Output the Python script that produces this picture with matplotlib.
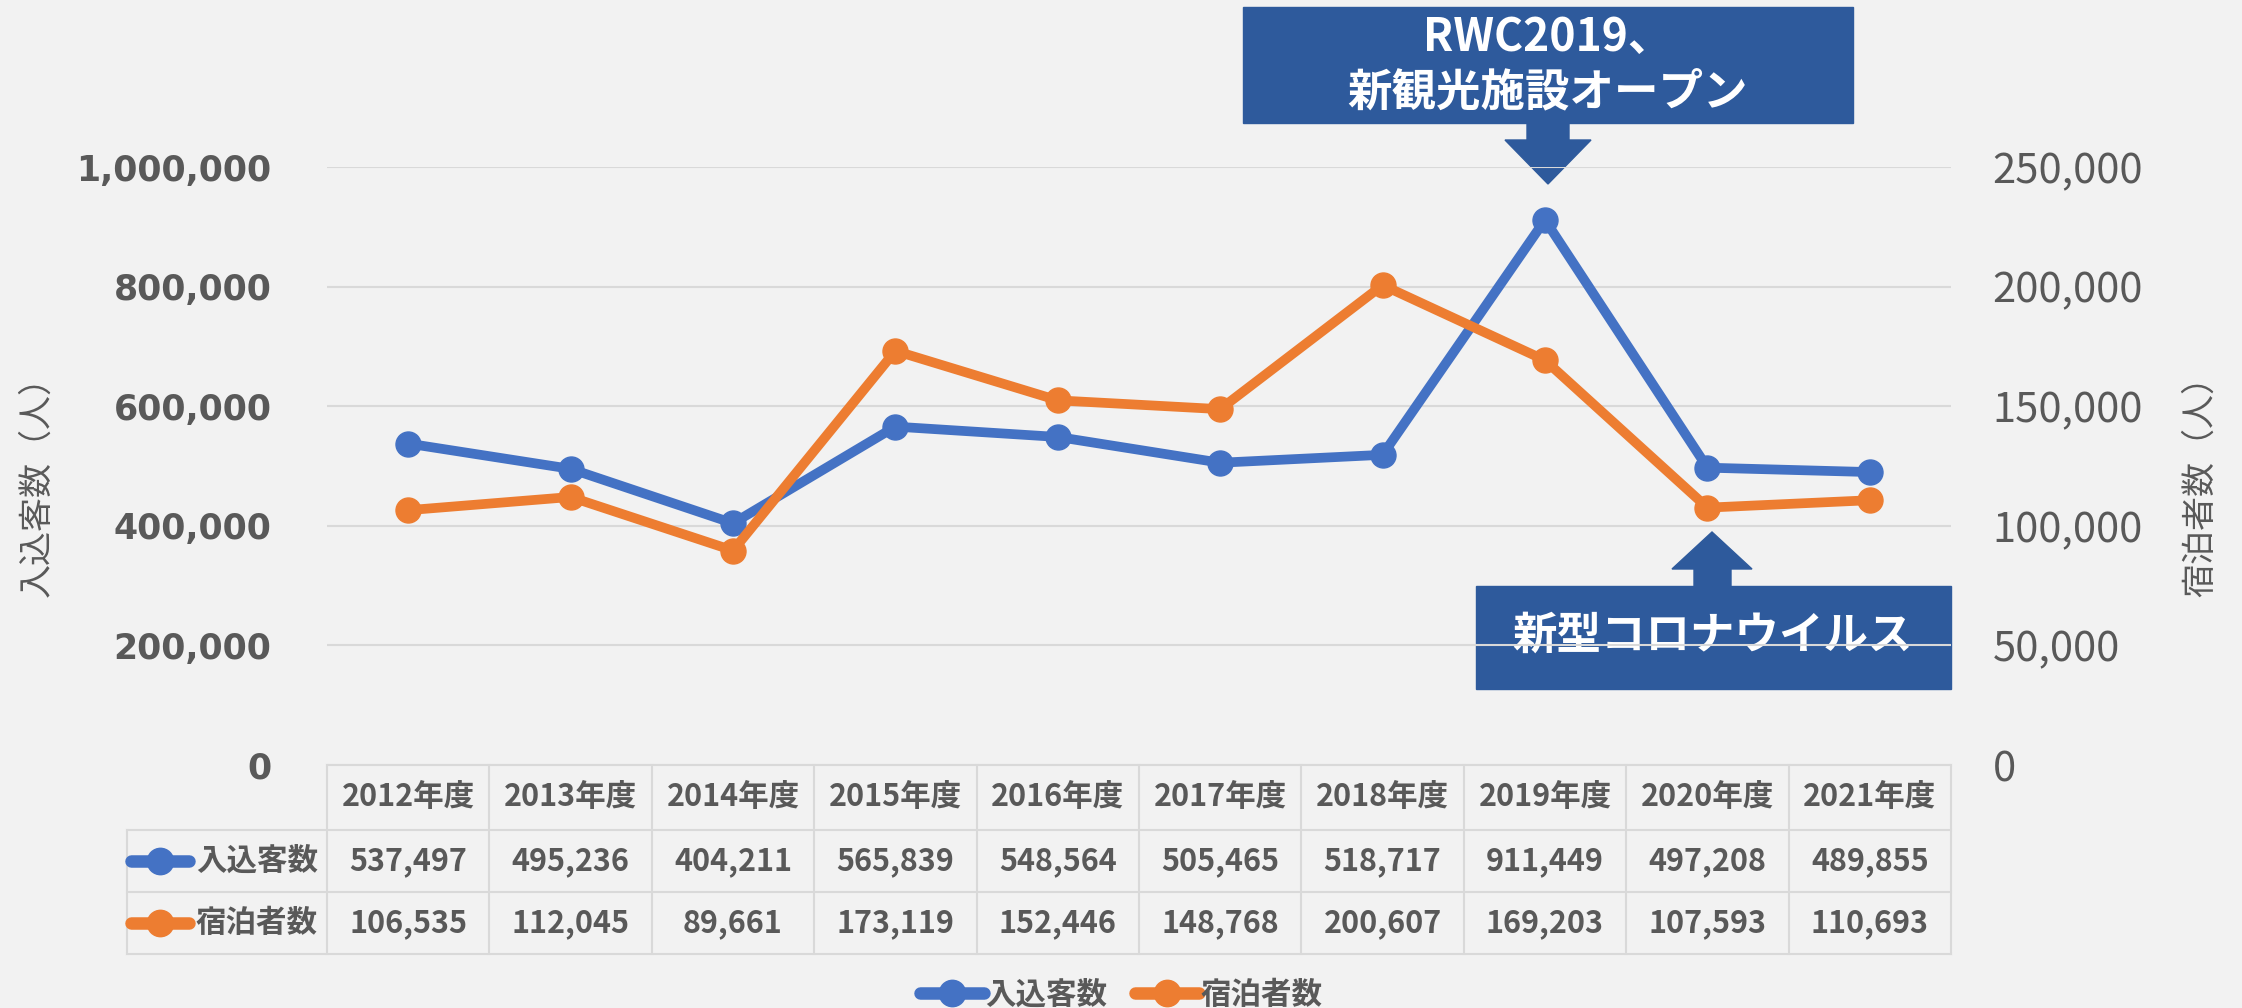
# Inbound visitors and overnight stays by fiscal year, with data table below
import matplotlib.pyplot as plt
from matplotlib.lines import Line2D
from matplotlib.patches import Rectangle, Polygon
from matplotlib.transforms import blended_transform_factory
import numpy as np

plt.rcParams['font.family'] = ['Noto Sans CJK JP', 'DejaVu Sans']

# data
years = ['2012年度', '2013年度', '2014年度', '2015年度', '2016年度',
         '2017年度', '2018年度', '2019年度', '2020年度', '2021年度']
inbound = [537497, 495236, 404211, 565839, 548564, 505465, 518717, 911449, 497208, 489855]
stays = [106535, 112045, 89661, 173119, 152446, 148768, 200607, 169203, 107593, 110693]
series_names = ['入込客数', '宿泊者数']
left_ticks = [0, 200000, 400000, 600000, 800000, 1000000]
right_ticks = [0, 50000, 100000, 150000, 200000, 250000]

W, H = 2242, 1008
BG = '#f2f2f2'
GRAY = '#595959'
GRID = '#d9d9d9'
BLUE = '#4472c4'
ORANGE = '#ed7d31'
NAVY = '#2e5a9c'


def fx(px):
    return px / W


def fy(py):
    return 1 - py / H


fig = plt.figure(figsize=(W / 100, H / 100), dpi=100)
fig.patch.set_facecolor(BG)

ax1 = fig.add_axes([fx(327), fy(765), fx(1951) - fx(327), fy(167) - fy(765)])
ax1.patch.set_visible(False)
ax2 = ax1.twinx()
ax2.patch.set_visible(False)

x = np.arange(len(years))
ax1.plot(x, inbound, color=BLUE, lw=7, marker='o', ms=18, solid_capstyle='round', zorder=3)
ax2.plot(x, stays, color=ORANGE, lw=7, marker='o', ms=18, solid_capstyle='round', zorder=3)

ax1.set_xlim(-0.5, len(years) - 0.5)
ax1.set_ylim(0, 1000000)
ax2.set_ylim(0, 250000)
ax1.set_xticks([])
ax1.set_yticks(left_ticks)
ax2.set_yticks(right_ticks)
ax1.set_yticklabels([f'{v:,}' for v in left_ticks], family='DejaVu Sans',
                    fontweight='bold', fontsize=25, color=GRAY)
ax2.set_yticklabels([f'{v:,}' for v in right_ticks], fontsize=30, color=GRAY)
ax1.tick_params(axis='y', length=0, pad=40)
ax2.tick_params(axis='y', length=0, pad=30)
for a in (ax1, ax2):
    for s in a.spines.values():
        s.set_visible(False)
ax1.grid(axis='y', color=GRID, lw=1.5)
ax1.set_axisbelow(True)

fig.text(fx(37), fy(478), '入込客数（人）', rotation=90, ha='center', va='center',
         fontsize=24.5, color=GRAY)
fig.text(fx(2201), fy(478), '宿泊者数（人）', rotation=90, ha='center', va='center',
         fontsize=24.5, color=GRAY)

# data table under the plot
tr = blended_transform_factory(ax1.transData, fig.transFigure)
x_left = -0.5 - 200 / 162.4
x_right = len(years) - 0.5
row_y = [765, 830, 892, 954]
tbl = dict(color=GRID, lw=1.5, clip_on=False)
fig.add_artist(Line2D([-0.5, x_right], [fy(765)] * 2, transform=tr, **tbl))
for py in row_y[1:]:
    fig.add_artist(Line2D([x_left, x_right], [fy(py)] * 2, transform=tr, **tbl))
for b in np.arange(-0.5, len(years), 1.0):
    fig.add_artist(Line2D([b, b], [fy(765), fy(954)], transform=tr, **tbl))
fig.add_artist(Line2D([x_left, x_left], [fy(830), fy(954)], transform=tr, **tbl))

txt = dict(transform=tr, ha='center', va='center', fontsize=22, fontweight='bold', color=GRAY)
for i, yr in enumerate(years):
    fig.text(i, fy(797), yr, **txt)
    fig.text(i, fy(861), f'{inbound[i]:,}', **txt)
    fig.text(i, fy(923), f'{stays[i]:,}', **txt)

for name, col, py in [(series_names[0], BLUE, 861), (series_names[1], ORANGE, 923)]:
    fig.add_artist(Line2D([fx(131), fx(189)], [fy(py)] * 2, color=col, lw=9,
                          solid_capstyle='round'))
    fig.add_artist(Line2D([fx(160)], [fy(py)], color=col, marker='o', ms=19, lw=0))
    fig.text(fx(318), fy(py), name, ha='right', va='center', fontsize=22,
             fontweight='bold', color=GRAY)

# legend at the bottom
handles = [Line2D([], [], color=BLUE, lw=9, marker='o', ms=19, solid_capstyle='round'),
           Line2D([], [], color=ORANGE, lw=9, marker='o', ms=19, solid_capstyle='round')]
leg = fig.legend(handles, series_names, loc='center', bbox_to_anchor=(fx(1121), fy(995)),
                 ncol=2, frameon=False, fontsize=22, handlelength=2.1, handletextpad=0.05,
                 columnspacing=0.9, borderpad=0)
for t in leg.get_texts():
    t.set_color(GRAY)
    t.set_fontweight('bold')

# annotation boxes (drawn behind the gridlines, as in the original)
fig.add_artist(Rectangle((fx(1243), fy(123)), fx(1853) - fx(1243), fy(7) - fy(123),
                         transform=fig.transFigure, color=NAVY, zorder=-1))
fig.add_artist(Polygon([(fx(1527), fy(122)), (fx(1569), fy(122)), (fx(1569), fy(140)),
                        (fx(1591), fy(140)), (fx(1548), fy(184)), (fx(1505), fy(140)),
                        (fx(1527), fy(140))], closed=True, transform=fig.transFigure,
                       color=NAVY, zorder=-1))
fig.text(fx(1548), fy(65), 'RWC2019、\n新観光施設オープン', ha='center', va='center',
         fontsize=32, fontweight='bold', color='white', linespacing=1.25, zorder=-0.5)

fig.add_artist(Rectangle((fx(1476), fy(689)), fx(1951) - fx(1476), fy(586) - fy(689),
                         transform=fig.transFigure, color=NAVY, zorder=-1))
fig.add_artist(Polygon([(fx(1694), fy(587)), (fx(1731), fy(587)), (fx(1731), fy(569)),
                        (fx(1752), fy(569)), (fx(1712), fy(532)), (fx(1672), fy(569)),
                        (fx(1694), fy(569))], closed=True, transform=fig.transFigure,
                       color=NAVY, zorder=-1))
fig.text(fx(1713), fy(636), '新型コロナウイルス', ha='center', va='center',
         fontsize=32, fontweight='bold', color='white', zorder=-0.5)

fig.savefig('out.png', dpi=100, facecolor=BG)
